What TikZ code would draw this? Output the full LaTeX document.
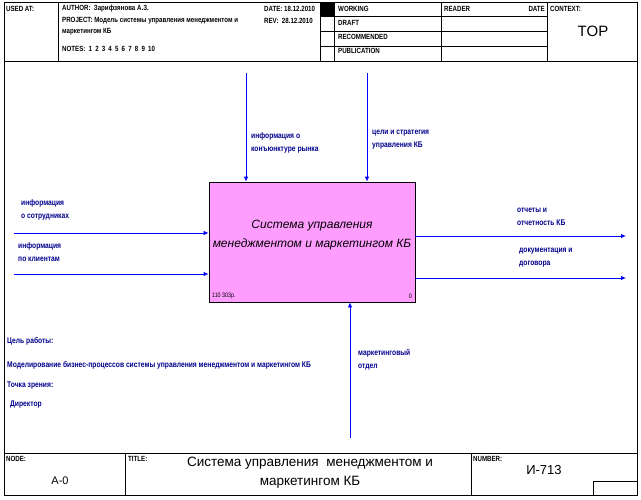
\documentclass[tikz,border=0pt]{standalone}
\usepackage{fontspec}
\setmainfont{Liberation Sans}
\newfontfamily\narrow[FakeStretch=0.82]{Liberation Sans}
\usetikzlibrary{arrows.meta}
\definecolor{arrowblue}{RGB}{0,0,255}
\definecolor{labelblue}{RGB}{0,0,140}
\definecolor{boxpink}{RGB}{255,157,255}
\tikzset{
  frame/.style={draw=black, line width=0.8pt},
  thin/.style={draw=black, line width=0.6pt},
  hdr/.style={anchor=west, inner sep=0pt, font=\narrow\fontsize{7.5}{8}\selectfont\bfseries},
  lbl/.style={anchor=west, inner sep=0pt, text=labelblue, align=left, font=\narrow\fontsize{8.2}{13}\selectfont\bfseries},
  arr/.style={draw=arrowblue, line width=0.8pt, -{Latex[length=5pt,width=4.5pt]}},
  func/.style={draw=black, line width=0.8pt, fill=boxpink, minimum width=206pt, minimum height=120pt, inner sep=0pt}
}
\newcommand{\nsp}{\hspace{3.2pt}}
\begin{document}
\begin{tikzpicture}[x=1pt,y=-1pt]
\useasboundingbox (0,0) rectangle (641,499);
% outer frame
\draw[frame] (4,2) rectangle (637,495);
\draw[frame] (4,61) -- (637,61);
\draw[frame] (4,453) -- (637,453);
% header grid
\draw[thin] (58,2) -- (58,61);
\draw[thin] (320,2) -- (320,61);
\draw[thin] (334,2) -- (334,61);
\draw[thin] (441,2) -- (441,61);
\draw[thin] (547,2) -- (547,61);
\draw[thin] (320,16) -- (547,16);
\draw[thin] (320,31) -- (547,31);
\draw[thin] (320,46) -- (547,46);
\fill[black] (320,2) rectangle (334,16);
% header texts
\node[hdr] (usedat) at (6,9) {USED AT:};
\node[hdr] (author) at (62,9) {AUTHOR:\ \ Зарифзянова А.З.};
\node[hdr] (project) at (62,21) {PROJECT:\ Модель системы управления менеджментом и};
\node[hdr] (project2) at (62,32) {маркетингом КБ};
\node[hdr] (notes) at (62,49) {NOTES:\nsp 1\nsp 2\nsp 3\nsp 4\nsp 5\nsp 6\nsp 7\nsp 8\nsp 9\nsp 10};
\node[hdr] (date) at (264,9) {DATE:\ 18.12.2010};
\node[hdr] (rev) at (264,21) {REV:\ \ 28.12.2010};
\node[hdr] (working) at (338,9) {WORKING};
\node[hdr] (draft) at (338,23) {DRAFT};
\node[hdr] (recom) at (338,37) {RECOMMENDED};
\node[hdr] (publ) at (338,51) {PUBLICATION};
\node[hdr] (reader) at (444,9) {READER};
\node[hdr, anchor=east] (rdate) at (545,9) {DATE};
\node[hdr] (context) at (550,9) {CONTEXT:};
\node[anchor=center, inner sep=0pt, font=\fontsize{15}{16}\selectfont] (top) at (593,31) {TOP};
% footer grid
\draw[thin] (125,453) -- (125,495);
\draw[thin] (471,453) -- (471,495);
\draw[thin] (593,481) rectangle (637,495);
\node[hdr] (nodelbl) at (6,459) {NODE:};
\node[hdr] (titlelbl) at (128,459) {TITLE:};
\node[hdr] (numlbl) at (473,459) {NUMBER:};
\node[inner sep=0pt, font=\fontsize{11}{12}\selectfont] (nodeval) at (60,481) {А-0};
\node[inner sep=0pt, align=center, font=\fontsize{13.5}{19}\selectfont] (titleval) at (310,473) {Система управления\ \ менеджментом и\\маркетингом КБ};
\node[inner sep=0pt, font=\fontsize{13}{14}\selectfont] (numval) at (544,470) {И-713};
% function box
\node[func] (box) at (312,242) {};
\node[inner sep=0pt, align=center, font=\fontsize{12}{19}\selectfont\itshape] (boxtext) at (312,235) {Система управления\\менеджментом и маркетингом КБ};
\node[anchor=south west, inner sep=0pt, font=\narrow\fontsize{6.5}{7}\selectfont] (cost) at (212,299) {110 303р.};
\node[anchor=south east, inner sep=0pt, font=\narrow\fontsize{6.5}{7}\selectfont] (num0) at (412,299) {0};
% arrow endpoints
\coordinate (in1s) at (14,233);
\coordinate (in2s) at (14,274);
\coordinate (out1e) at (626,236);
\coordinate (out2e) at (626,278);
\coordinate (c1s) at (246,73);
\coordinate (c2s) at (367,73);
\coordinate (ms) at (350,438);
\draw[arr] (in1s) -- (in1s -| box.west);
\draw[arr] (in2s) -- (in2s -| box.west);
\draw[arr] (out1e -| box.east) -- (out1e);
\draw[arr] (out2e -| box.east) -- (out2e);
\draw[arr] (c1s) -- (c1s |- box.north);
\draw[arr] (c2s) -- (c2s |- box.north);
\draw[arr] (ms) -- (ms |- box.south);
% arrow labels
\node[lbl] (lc1) at (251,143) {информация о\\конъюнктуре рынка};
\node[lbl] (lc2) at (372,140) {цели и стратегия\\управления КБ};
\node[lbl] (li1) at (21,210) {информация\\о сотрудниках};
\node[lbl] (li2) at (18,252) {информация\\по клиентам};
\node[lbl] (lo1) at (517,217) {отчеты и\\отчетность КБ};
\node[lbl] (lo2) at (519,258) {документация и\\договора};
\node[lbl] (lm) at (358,360) {маркетинговый\\отдел};
% notes
\node[lbl] (goal) at (7,341) {Цель работы:};
\node[lbl] (goaltext) at (7,365) {Моделирование бизнес-процессов системы управления менеджментом и маркетингом КБ};
\node[lbl] (view) at (7,386) {Точка зрения:};
\node[lbl] (viewtext) at (10,405) {Директор};
\end{tikzpicture}
\end{document}
